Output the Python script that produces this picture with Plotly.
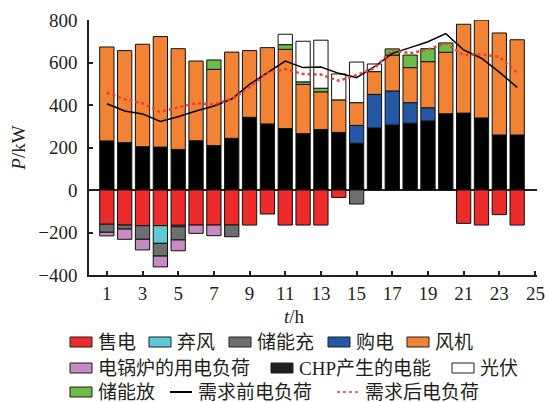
import plotly.graph_objects as go

# Hourly electric power balance (kW)
hours = list(range(1, 25))
chp = [231, 223, 204, 202, 191, 232, 209, 243, 342, 311, 289, 265,
       285, 271, 220, 292, 306, 314, 325, 359, 362, 339, 259, 259]
grid_buy = [0, 0, 0, 0, 0, 0, 0, 0, 0, 0, 0, 0,
            0, 0, 84, 158, 160, 97, 62, 0, 0, 0, 0, 0]
wind = [442, 433, 482, 520, 474, 375, 359, 406, 314, 359, 373, 232,
        177, 153, 107, 107, 169, 165, 217, 289, 418, 461, 480, 448]
discharge = [0, 0, 0, 0, 0, 0, 44, 0, 0, 0, 22, 12,
             17, 0, 0, 0, 29, 59, 61, 44, 0, 0, 0, 0]
pv = [0, 0, 0, 0, 0, 0, 0, 0, 0, 0, 49, 191,
      226, 122, 191, 36, 0, 0, 0, 0, 0, 0, 0, 0]
grid_sell = [-161, -165, -168, -168, -166, -165, -165, -165, -165, -113, -165, -165,
             -165, -35, 0, 0, 0, 0, 0, 0, -157, -165, -116, -165]
curtail = [0, 0, 0, -83, -7, 0, 0, 0, 0, 0, 0, 0,
           0, 0, 0, 0, 0, 0, 0, 0, 0, 0, 0, 0]
charge = [-38, -19, -64, -60, -62, 0, 0, -55, 0, 0, 0, 0,
          0, 0, -66, 0, 0, 0, 0, 0, 0, 0, 0, 0]
boiler = [-17, -48, -50, -51, -51, -39, -50, 0, 0, 0, 0, 0,
          0, 0, 0, 0, 0, 0, 0, 0, 0, 0, 0, 0]
load_before = [406, 372, 358, 323, 345, 372, 395, 428, 497, 554, 607, 576,
               579, 549, 529, 580, 643, 670, 698, 736, 659, 620, 555, 483]
load_after = [458, 427, 408, 367, 389, 409, 403, 428, 483, 552, 568, 546,
              543, 514, 541, 573, 659, 643, 662, 690, 635, 638, 627, 552]

x_ticks = list(range(1, 26, 2))
y_ticks = [-400, -200, 0, 200, 400, 600, 800]

FONT = "Liberation Serif, Times New Roman, Noto Sans CJK SC, serif"
C_RED = "#ED2B2B"
C_CYAN = "#5DC9D4"
C_GRAY = "#6D6E70"
C_BLUE = "#2457A6"
C_ORANGE = "#F28334"
C_PINK = "#C48CC1"
C_BLACK = "#000000"
C_WHITE = "#FFFFFF"
C_GREEN = "#6BBD45"
C_DOT = "#F03B3B"

# stacking order: positives upward from CHP, negatives downward from selling
bar_series = [
    ("CHP产生的电能", chp, C_BLACK),
    ("售电", grid_sell, C_RED),
    ("弃风", curtail, C_CYAN),
    ("储能充", charge, C_GRAY),
    ("电锅炉的用电负荷", boiler, C_PINK),
    ("购电", grid_buy, C_BLUE),
    ("风机", wind, C_ORANGE),
    ("储能放", discharge, C_GREEN),
    ("光伏", pv, C_WHITE),
]

fig = go.Figure()
for name, vals, color in bar_series:
    fig.add_trace(go.Bar(
        x=hours, y=[v if v != 0 else None for v in vals], name=name,
        width=0.8, marker=dict(color=color, line=dict(color="#111111", width=1)),
        showlegend=False,
    ))

fig.add_trace(go.Scatter(x=hours, y=load_before, mode="lines", name="需求前电负荷",
                         line=dict(color="#000000", width=1.5), showlegend=False))
fig.add_trace(go.Scatter(x=hours, y=load_after, mode="lines", name="需求后电负荷",
                         line=dict(color=C_DOT, width=2.5, dash="dot"), showlegend=False))

# plot area geometry (px) used to place the legend block below the axes
W, H = 548, 402
L, R, T, B = 89, 11, 20, 127
PW, PH = W - L - R, H - T - B
# x range runs a hair past 25 so the last tick is not clipped at the axis end
X_MAX = 25 * PW / (PW - 2)


def px_x(px):
    return (px - L) / PW


def px_y(py):
    return (H - B - py) / PH


legend_rows = [
    (342, [("售电", "box", C_RED, 70), ("弃风", "box", C_CYAN, 149),
           ("储能充", "box", C_GRAY, 229), ("购电", "box", C_BLUE, 328),
           ("风机", "box", C_ORANGE, 407)]),
    (368, [("电锅炉的用电负荷", "box", C_PINK, 70),
           ("CHP产生的电能", "box", "#231F20", 271),
           ("光伏", "box", C_WHITE, 452)]),
    (392, [("储能放", "box", C_GREEN, 70), ("需求前电负荷", "line", "#000000", 170),
           ("需求后电负荷", "dot", C_DOT, 337)]),
]

shapes = []
annotations = []
for row_y, items in legend_rows:
    for label, kind, color, sx in items:
        if kind == "box":
            shapes.append(dict(type="rect", xref="paper", yref="paper",
                               x0=px_x(sx), x1=px_x(sx + 22),
                               y0=px_y(row_y - 5), y1=px_y(row_y + 5),
                               fillcolor=color, line=dict(color="#231F20", width=1)))
        else:
            shapes.append(dict(type="line", xref="paper", yref="paper",
                               x0=px_x(sx), x1=px_x(sx + 22),
                               y0=px_y(row_y), y1=px_y(row_y),
                               line=dict(color=color, width=2 if kind == "line" else 1.5,
                                         dash="solid" if kind == "line" else "dot")))
        annotations.append(dict(text=label, xref="paper", yref="paper",
                                x=px_x(sx + 26), y=px_y(row_y), xanchor="left",
                                yanchor="middle", showarrow=False,
                                font=dict(family=FONT, size=19, color="#231F20")))

annotations.append(dict(text="<i>t</i>/h", xref="paper", yref="paper",
                        x=px_x(294), y=px_y(316), xanchor="center", yanchor="middle",
                        showarrow=False, font=dict(family=FONT, size=19, color="#231F20")))

# the label at the right end of the hour axis is written as an annotation,
# since plotly drops a tick label sitting on the axis end
last_tick = x_ticks[-1]
tick_text = [str(v) for v in x_ticks[:-1]] + [""]
annotations.append(dict(text=str(last_tick), xref="x", yref="paper",
                        x=last_tick, y=px_y(293), xanchor="center", yanchor="middle",
                        showarrow=False, font=dict(family=FONT, size=19, color="#231F20")))

fig.update_layout(
    width=W, height=H,
    margin=dict(l=L, r=R, t=T, b=B, pad=0),
    barmode="relative",
    plot_bgcolor="white", paper_bgcolor="white",
    font=dict(family=FONT, size=19, color="#231F20"),
    shapes=shapes, annotations=annotations,
    showlegend=False,
)
fig.update_xaxes(range=[0, X_MAX], tickmode="array", tickvals=x_ticks,
                 ticktext=tick_text, ticklabeloverflow="allow",
                 ticks="inside", ticklen=4,
                 tickwidth=1.5, tickcolor="#231F20", showline=True, linecolor="#231F20",
                 linewidth=1.5, showgrid=False, zeroline=False,
                 tickfont=dict(family=FONT, size=19))
fig.update_yaxes(range=[-400, 800], tickvals=y_ticks, ticks="inside", ticklen=4,
                 tickwidth=1.5, tickcolor="#231F20", showline=True, linecolor="#231F20",
                 linewidth=1.5, showgrid=False, zeroline=True, zerolinecolor="#231F20",
                 zerolinewidth=1.5, ticklabelstandoff=6,
                 title=dict(text="<i>P</i>/kW", standoff=8, font=dict(family=FONT, size=19)),
                 tickfont=dict(family=FONT, size=19))

fig.write_html("out.html")
